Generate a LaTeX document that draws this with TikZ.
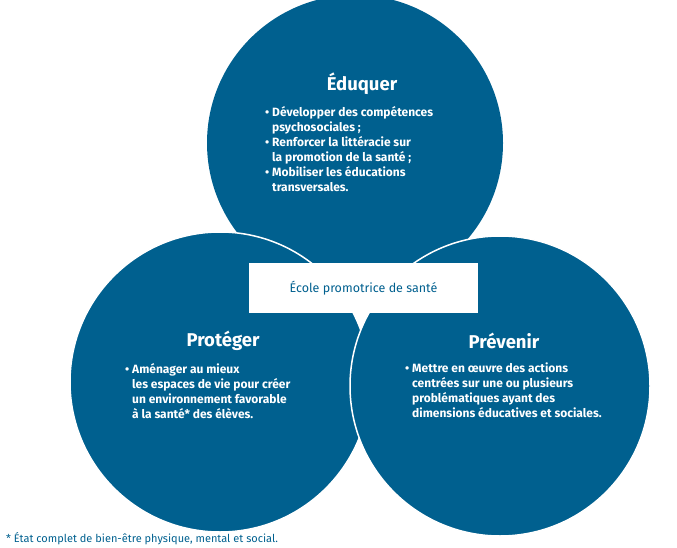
\documentclass[tikz,border=0pt]{standalone}
\usepackage{fontspec}
\setmainfont{Fira Sans}
\definecolor{cb}{HTML}{00608F}
\begin{document}
\begin{tikzpicture}[x=1pt,y=-1pt,
  circ/.style={fill=cb,draw=white,line width=1.5pt},
  ttl/.style={text=white,font=\fontsize{18.5}{20}\selectfont\bfseries},
  body/.style={text=white,font=\fontsize{12}{15}\selectfont\bfseries,align=left,anchor=north west,inner sep=0pt}]
\useasboundingbox (0,0) rectangle (677,548);
\fill[cb] (355,143) circle (148);
\node[circle,minimum size=300pt] (top) at (355,143) {};
\filldraw[circ] (220,382) circle (150);
\filldraw[circ] (500,386) circle (150);
\node[fill=white,minimum width=229pt,minimum height=50pt,text=cb,font=\fontsize{12.5}{14}\selectfont] (ec) at (363.5,288) {École promotrice de santé};
\node[ttl] (t1) at (362,84) {Éduquer};
\node[body] (b1) at (265,106) {• Développer des compétences\\\hphantom{• }psychosociales ;\\• Renforcer la littéracie sur\\\hphantom{• }la promotion de la santé ;\\• Mobiliser les éducations\\\hphantom{• }transversales.};
\node[ttl] (t2) at (223,341) {Protéger};
\node[body] (b2) at (125,363) {• Aménager au mieux\\\hphantom{• }les espaces de vie pour créer\\\hphantom{• }un environnement favorable\\\hphantom{• }à la santé* des élèves.};
\node[ttl] (t3) at (504,341) {Prévenir};
\node[body] (b3) at (405,363) {• Mettre en œuvre des actions\\\hphantom{• }centrées sur une ou plusieurs\\\hphantom{• }problématiques ayant des\\\hphantom{• }dimensions éducatives et sociales.};
\node[anchor=west,text=cb,inner sep=0pt,font=\fontsize{11}{12}\selectfont] (fn) at (6,539) {* État complet de bien-être physique, mental et social.};
\end{tikzpicture}
\end{document}
